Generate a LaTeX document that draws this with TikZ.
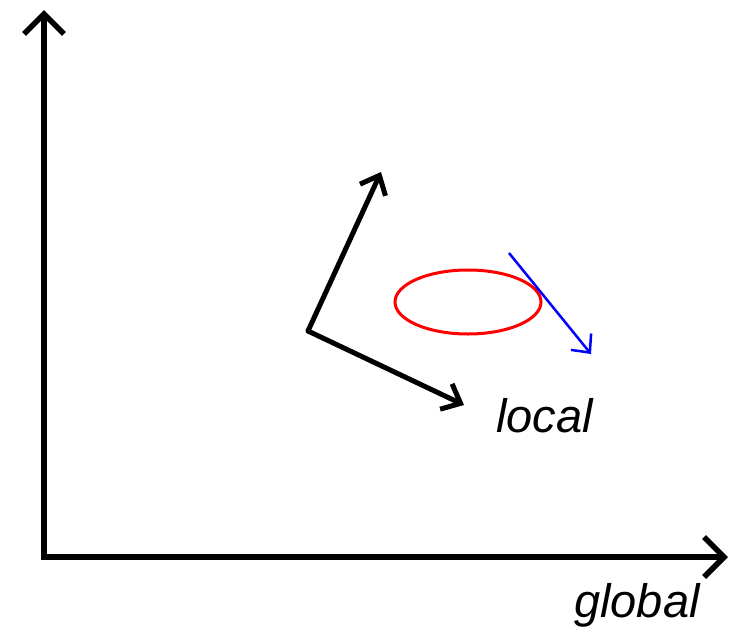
\documentclass[tikz,border=0pt]{standalone}
\usepackage{fontspec}
\setmainfont{Liberation Sans}
\usetikzlibrary{arrows.meta}
\begin{document}
\begin{tikzpicture}[x=1pt,y=-1pt,
  axis/.style={line width=5.5pt,-{Straight Barb[length=20pt,width=40pt,line width=5.5pt]}},
  frame/.style={line width=5pt,-{Straight Barb[length=16pt,width=28pt,line width=5pt]}},
  lbl/.style={font=\fontsize{47}{52}\selectfont\itshape, inner sep=0pt}]
\useasboundingbox (0,0) rectangle (731,627);
\fill[white] (0,0) rectangle (731,627);
\coordinate (O) at (44,557);
\coordinate (Y) at (44,10);
\coordinate (X) at (728,557);
\draw[axis] (44,559.5) -- (Y);
\draw[axis] (41.5,557) -- (X);
\node[lbl, anchor=base west] (glob) at (574,617) {global};
\coordinate (L) at (308,331);
\coordinate (L1) at (381,172);
\coordinate (L2) at (464,405);
\draw[frame] (L) -- (L1);
\draw[frame] (L) -- (L2);
\fill (L) circle (2.5pt);
\node[lbl, anchor=base west] (loc) at (496,432) {local};
\draw[red, line width=3pt] (468,302) ellipse [x radius=73, y radius=32];
\coordinate (B1) at (509,253);
\coordinate (B2) at (591,354);
\draw[blue, line width=2.5pt, -{Straight Barb[length=14pt,width=26pt,line width=2.5pt]}] (B1) -- (B2);
\end{tikzpicture}
\end{document}
